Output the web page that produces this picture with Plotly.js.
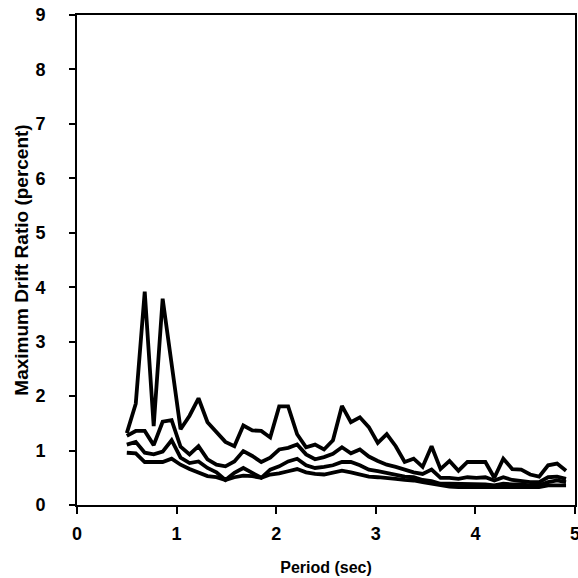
<!DOCTYPE html>
<html>
<head>
<meta charset="utf-8">
<script src="https://cdn.plot.ly/plotly-3.0.1.min.js"></script>
<style>html,body{margin:0;padding:0;background:#fff;}#chart{width:578px;height:578px;}</style>
</head>
<body>
<div id="chart"></div>
<script>
const periods = [0.50,0.59,0.68,0.77,0.86,0.95,1.04,1.13,1.22,1.31,1.40,1.49,1.58,1.67,1.76,1.85,1.94,2.03,2.12,2.21,2.30,2.39,2.48,2.57,2.66,2.75,2.84,2.93,3.02,3.11,3.20,3.29,3.38,3.47,3.56,3.65,3.74,3.83,3.92,4.01,4.10,4.19,4.28,4.37,4.46,4.55,4.64,4.73,4.82,4.91];
const curveA = [1.32,1.86,3.92,1.45,3.79,2.60,1.39,1.64,1.96,1.52,1.33,1.16,1.08,1.46,1.37,1.36,1.24,1.81,1.81,1.30,1.06,1.11,1.02,1.19,1.82,1.52,1.61,1.43,1.14,1.30,1.08,0.79,0.85,0.70,1.08,0.66,0.81,0.63,0.79,0.79,0.79,0.50,0.85,0.66,0.65,0.56,0.52,0.73,0.76,0.63];
const curveB = [1.27,1.36,1.36,1.10,1.53,1.56,1.07,0.93,1.08,0.84,0.74,0.71,0.80,0.99,0.90,0.79,0.87,1.02,1.05,1.11,0.93,0.84,0.88,0.94,1.06,0.95,1.02,0.89,0.81,0.74,0.70,0.65,0.60,0.57,0.65,0.50,0.50,0.48,0.51,0.50,0.51,0.45,0.51,0.46,0.44,0.42,0.42,0.51,0.52,0.48];
const curveC = [1.11,1.16,0.96,0.93,0.98,1.19,0.87,0.77,0.80,0.68,0.60,0.46,0.59,0.68,0.59,0.50,0.65,0.71,0.80,0.85,0.73,0.68,0.70,0.73,0.79,0.79,0.73,0.65,0.62,0.59,0.56,0.52,0.51,0.46,0.44,0.39,0.39,0.39,0.38,0.38,0.38,0.36,0.39,0.38,0.38,0.36,0.36,0.42,0.45,0.42];
const curveD = [0.96,0.95,0.79,0.79,0.79,0.85,0.74,0.66,0.60,0.53,0.51,0.46,0.51,0.54,0.53,0.50,0.56,0.58,0.62,0.66,0.60,0.57,0.56,0.59,0.63,0.60,0.56,0.52,0.51,0.50,0.48,0.46,0.45,0.42,0.39,0.36,0.34,0.33,0.33,0.32,0.32,0.32,0.33,0.33,0.32,0.32,0.33,0.36,0.36,0.36];
const xTicks = [0,1,2,3,4,5];
const yTicks = [0,1,2,3,4,5,6,7,8,9];

const lineStyle = {color:'#000', width:3.8};
const series = [curveA, curveB, curveC, curveD];
const traces = series.map((ys, i) => ({
  x: periods, y: ys, type:'scatter', mode:'lines', line: lineStyle, hoverinfo:'skip',
  yaxis: i === 3 ? 'y2' : 'y'
}));

const fam = 'Liberation Sans, Arial, sans-serif';

const layout = {
  width:578, height:578,
  margin:{l:77, r:3, t:15, b:73},
  paper_bgcolor:'#fff', plot_bgcolor:'#fff',
  showlegend:false,
  xaxis:{
    range:[0,5], tickvals:xTicks, ticktext:xTicks.map(String),
    showgrid:false, zeroline:false,
    showline:true, linecolor:'#000', linewidth:2, mirror:true,
    ticks:'outside', ticklen:7, tickwidth:2, tickcolor:'#000',
    tickfont:{family:fam, size:18, color:'#000', weight:'bold'},
    ticklabelstandoff:4, ticklabeloverflow:'allow',
    title:{text:'Period (sec)', font:{family:fam, size:16, color:'#000', weight:'bold'}, standoff:19}
  },
  yaxis:{
    range:[0,9], tickvals:yTicks, ticktext:yTicks.map(String),
    showgrid:false, zeroline:false,
    showline:true, linecolor:'#000', linewidth:2, mirror:true,
    ticks:'outside', ticklen:26, tickwidth:2, tickcolor:'rgba(0,0,0,0)',
    tickfont:{family:fam, size:18, color:'#000', weight:'bold'},
    title:{text:'Maximum Drift Ratio (percent)', font:{family:fam, size:19, color:'#000', weight:'bold'}, standoff:2}
  },
  yaxis2:{
    range:[0,9], tickvals:yTicks, overlaying:'y', anchor:'x', side:'left',
    showgrid:false, zeroline:false, showline:false, showticklabels:false,
    ticks:'outside', ticklen:7, tickwidth:2, tickcolor:'#000'
  }
};
Plotly.newPlot('chart', traces, layout, {displayModeBar:false, staticPlot:true});
</script>
</body>
</html>
